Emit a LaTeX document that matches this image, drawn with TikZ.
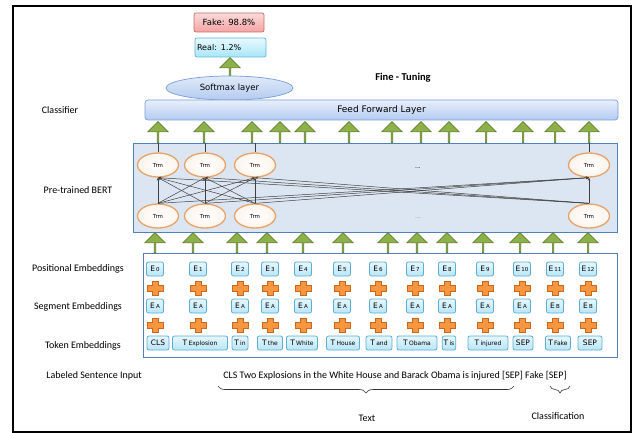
\documentclass[tikz,border=0pt]{standalone}
\usepackage{fontspec}
\setmainfont{Carlito}
\newfontfamily\verd{DejaVu Sans}
\usetikzlibrary{shapes.geometric,shapes.arrows,arrows.meta,decorations.pathreplacing,positioning}

\definecolor{bertfill}{HTML}{DCE6F2}
\definecolor{bertline}{HTML}{4F81BD}
\definecolor{upgreen}{HTML}{8DB04A}
\definecolor{upgreendk}{HTML}{5F7F28}
\definecolor{plusorange}{HTML}{F7963F}
\definecolor{plusorangedk}{HTML}{C8691E}
\definecolor{embfill}{HTML}{B9E6F7}
\definecolor{embline}{HTML}{5BAFD3}
\definecolor{trmline}{HTML}{E8A368}
\definecolor{fflfill}{HTML}{B3CBF0}
\definecolor{fflline}{HTML}{7A9ED8}
\definecolor{fakefill}{HTML}{F4A3A3}
\definecolor{fakeline}{HTML}{C96B6B}
\definecolor{realfill}{HTML}{A8E6F8}
\definecolor{realline}{HTML}{5CB8D8}

\newcommand\Esub[1]{E\,{\fontsize{5.5}{5}\selectfont #1}}
\newcommand\Tsub[1]{T\,{\fontsize{6}{5}\selectfont #1}}

\tikzset{
  uparrow/.style={single arrow, shape border rotate=90, fill=upgreen, draw=upgreendk,
    line width=0.7pt, minimum height=20pt, minimum width=20pt,
    single arrow head extend=5pt, single arrow head indent=0pt, inner sep=0pt},
  embbox/.style={draw=embline, line width=0.8pt, rounded corners=2pt,
    top color=embfill!35, bottom color=embfill, minimum height=14pt, minimum width=17pt,
    inner sep=1.5pt, font=\verd\fontsize{7.5}{8}\selectfont},
  trm/.style={ellipse, draw=trmline, line width=1.3pt, inner color=white,
    outer color=trmline!12, minimum width=41pt, minimum height=24pt, inner sep=0pt,
    font=\verd\fontsize{5.5}{6}\selectfont},
  attn/.style={draw=black!75, line width=0.5pt, -{Stealth[length=3pt,width=2.5pt]}},
  rowlabel/.style={font=\fontsize{10}{12}\selectfont},
  bracelabel/.style={black!80, line width=0.6pt, decorate, decoration={brace, amplitude=7pt}},
  plussign/.pic={\filldraw[fill=plusorange, draw=plusorangedk, line width=0.5pt]
    (-2.8,-7) -- (2.8,-7) -- (2.8,-2.8) -- (8,-2.8) -- (8,2.8) -- (2.8,2.8) -- (2.8,7)
    -- (-2.8,7) -- (-2.8,2.8) -- (-8,2.8) -- (-8,-2.8) -- (-2.8,-2.8) -- cycle;}
}

\begin{document}
\begin{tikzpicture}[x=1pt, y=-1pt]
  \useasboundingbox (0,0) rectangle (635,433);
  \draw[line width=1.5pt] (13,6) rectangle (631,432);

  % output side
  \node[draw=fakeline, line width=0.7pt, rounded corners=2pt, top color=fakefill!40,
        bottom color=fakefill, minimum width=70pt, minimum height=19pt, inner sep=0pt,
        font=\verd\fontsize{8.5}{9}\selectfont] (fake) at (229,22.5) {Fake: 98.8\%};
  \node[draw=realline, line width=0.7pt, rounded corners=2pt, top color=realfill!25,
        bottom color=realfill, text width=67pt, align=left, minimum height=19pt,
        inner sep=2pt, font=\verd\fontsize{8}{9}\selectfont] (real) at (230.5,47.5) {Real: 1.2\%};
  \node[uparrow, minimum height=18pt] (upsm) at (230,67) {};
  \node[ellipse, draw=fflline, line width=0.7pt, top color=fflfill!40, bottom color=fflfill,
        minimum width=127pt, minimum height=24pt, inner sep=0pt,
        font=\verd\fontsize{8.5}{9}\selectfont] (soft) at (229.5,88) {Softmax layer};
  \node[font=\bfseries\fontsize{10.5}{12}\selectfont] (fine) at (403,78) {Fine - Tuning};
  \node[draw=fflline, line width=0.7pt, rounded corners=3pt, top color=fflfill!30,
        bottom color=fflfill, minimum width=473pt, minimum height=20pt, inner sep=0pt,
        font=\verd\fontsize{9}{10}\selectfont] (ffl) at (381.5,110) {Feed Forward Layer};

  % left labels
  \node[rowlabel] (lcls) at (60,110) {Classifier};
  \node[rowlabel] (lbert) at (78,190) {Pre-trained BERT};
  \node[rowlabel] (lpos) at (78,269) {Positional Embeddings};
  \node[rowlabel] (lseg) at (78,307) {Segment Embeddings};
  \node[rowlabel] (ltok) at (83,346) {Token Embeddings};
  \node[rowlabel] (lsent) at (94,376) {Labeled Sentence Input};

  % BERT block
  \node[draw=bertline, fill=bertfill, line width=0.8pt, minimum width=484pt,
        minimum height=89pt, inner sep=0pt] (bert) at (375,187.5) {};
  \foreach \i/\x in {1/158,2/205,3/255,4/589} {
    \node[trm] (t\i) at (\x,165) {Trm};
    \node[trm] (b\i) at (\x,216) {Trm};
    \draw[black!75, line width=0.5pt] (t\i.north) -- (t\i.north |- bert.north);
  }
  \foreach \a in {1,2,3,4}
    \foreach \b in {1,2,3,4}
      \draw[attn] (b\a.north) -- (t\b.south);
  \node[font=\verd\fontsize{6}{6}\selectfont] (dtop) at (418,168) {...};
  \node[font=\verd\fontsize{6}{6}\selectfont, text=black!45] (dbot) at (418,218) {...};

  % arrows between layers
  \foreach \i/\x in {1/158,2/204,3/252,4/280,5/305,6/349,7/392,8/421,9/449,10/486,11/523,12/555,13/589}
    \node[uparrow, minimum height=21pt] (upt\i) at (\x,132.5) {};
  \foreach \i/\x in {1/155,2/193,3/237,4/267,5/303,6/343,7/388,8/417,9/447,10/483,11/520,12/553,13/588}
    \node[uparrow] (upb\i) at (\x,243) {};

  % embeddings
  \node[draw=bertline, fill=white, line width=0.8pt, minimum width=474pt,
        minimum height=104pt, inner sep=0pt] (emb) at (380,305) {};
  \foreach \i/\x/\s in {0/155/A,1/198/A,2/240/A,3/270/A,4/303/A,5/342/A,6/378/A,
                        7/415/A,8/447/A,9/485/A,10/522/A,11/555/B,12/588/B} {
    \node[embbox] (pos\i) at (\x,269) {\Esub{\i}};
    \pic at (\x,288) {plussign};
    \node[embbox] (seg\i) at (\x,306) {\Esub{\s}};
    \pic at (\x,325) {plussign};
  }
  \foreach \i/\x/\w/\t in {0/158/22/{CLS},1/200/55/{\Tsub{Explosion}},2/240/16/{\Tsub{in}},
                           3/270/25/{\Tsub{the}},4/302/31/{\Tsub{White}},5/343/33/{\Tsub{House}},
                           6/379/26/{\Tsub{and}},7/417/40/{\Tsub{Obama}},8/449/13/{\Tsub{is}},
                           9/488/40/{\Tsub{injured}},10/523/20/{SEP},11/558/25/{\Tsub{Fake}},
                           12/590/24/{SEP}}
    \node[embbox, minimum width=\w pt] (tok\i) at (\x,343) {\t};

  % input sentence
  \node[rowlabel] (sent) at (395,376)
    {CLS Two Explosions in the White House and Barack Obama is injured [SEP] Fake [SEP]};
  \coordinate (txtL) at (218,386);
  \coordinate (txtR) at (514,386);
  \coordinate (clsL) at (550,386);
  \coordinate (clsR) at (570,386);
  \draw[bracelabel] (txtR) -- (txtL);
  \draw[bracelabel] (clsR) -- (clsL);
  \node[rowlabel] (ltext) at (367,418) {Text};
  \node[rowlabel] (lclass) at (558,416) {Classification};
\end{tikzpicture}
\end{document}
